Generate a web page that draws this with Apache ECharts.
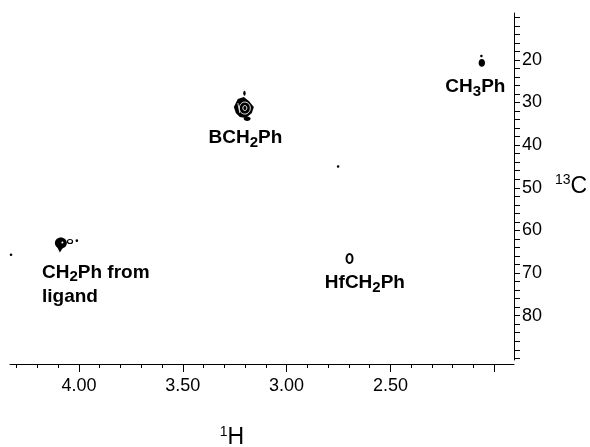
<!DOCTYPE html>
<html>
<head>
<meta charset="utf-8">
<script src="https://cdn.jsdelivr.net/npm/echarts@6/dist/echarts.min.js"></script>
<style>
html, body { margin: 0; padding: 0; background: #fff; }
#main { width: 590px; height: 447px; }
</style>
</head>
<body>
<div id="main"></div>
<script>
// cross peaks (1H ppm, 13C ppm)
var peakH = [4.087, 4.043, 4.010, 4.327, 3.206, 3.203, 3.190, 2.752, 2.697, 2.060, 2.062];
var peakC = [63.3, 62.6, 62.4, 65.7, 31.3, 27.8, 33.8, 45.0, 66.6, 20.7, 19.1];

// annotation texts and where they sit (ppm)
var noteText = ['CH3Ph', 'BCH2Ph', 'HfCH2Ph', 'CH2Ph from\nligand'];
var noteH = [2.091, 3.198, 2.623, 4.178];
var noteC = [25.9, 37.9, 72.0, 72.3];

// axis ticks
var hMajor = [2.0, 2.5, 3.0, 3.5, 4.0];
var hLabels = [2.5, 3.0, 3.5, 4.0];
var hMinor = [2.0, 2.1, 2.2, 2.3, 2.4, 2.5, 2.6, 2.7, 2.8, 2.9, 3.0, 3.1, 3.2, 3.3, 3.4, 3.5, 3.6, 3.7, 3.8, 3.9, 4.0, 4.1, 4.2, 4.3];
var cTicks = [10, 12, 14, 16, 18, 20, 22, 24, 26, 28, 30, 32, 34, 36, 38, 40, 42, 44, 46, 48, 50, 52, 54, 56, 58, 60, 62, 64, 66, 68, 70, 72, 74, 76, 78, 80, 82, 84, 86, 88, 90];
var cLabels = [20, 30, 40, 50, 60, 70, 80];

// how each contour is drawn (style only)
var peakShape = ['tear', 'smallRing', 'dot', 'dot', 'bc', 'tick', 'smallOval', 'dot', 'ring', 'blob', 'dot'];
var noteAlign = ['center', 'center', 'center', 'left'];

var FONT = '"Liberation Sans", Arial, sans-serif';

function richName(s) {
  // CH2Ph -> rich text with subscript digits
  return s.split('\n').map(function (line) {
    return line.replace(/([A-Za-z ]+)|(\d+)/g, function (m, a, d) {
      return a ? '{b|' + a + '}' : '{s|' + d + '}';
    });
  }).join('\n');
}

function renderPeak(params, api) {
  var p = api.coord([api.value(0), api.value(1)]);
  var x = p[0], y = p[1];
  var k = peakShape[params.dataIndex];
  var blk = { fill: '#000' };
  var c = [];
  if (k === 'tear') {
    c.push({ type: 'ellipse', shape: { cx: x, cy: y - 1.5, rx: 6, ry: 5.5 }, style: blk });
    c.push({ type: 'polygon', shape: { points: [[x - 5, y], [x + 4, y], [x - 1, y + 8]] }, style: blk });
    c.push({ type: 'circle', shape: { cx: x + 1.5, cy: y - 2, r: 1 }, style: { fill: '#fff' } });
  } else if (k === 'smallRing') {
    c.push({ type: 'ellipse', shape: { cx: x, cy: y, rx: 2.5, ry: 2 }, style: { fill: '#fff', stroke: '#000', lineWidth: 1.2 } });
  } else if (k === 'dot') {
    c.push({ type: 'circle', shape: { cx: x, cy: y, r: 1.3 }, style: blk });
  } else if (k === 'tick') {
    c.push({ type: 'ellipse', shape: { cx: x, cy: y, rx: 1.2, ry: 2.5 }, style: blk });
  } else if (k === 'smallOval') {
    c.push({ type: 'ellipse', shape: { cx: x, cy: y, rx: 3.5, ry: 2.2 }, style: blk });
  } else if (k === 'bc') {
    c.push({ type: 'polygon', shape: { points: [[x - 10, y - 1], [x - 6, y - 9], [x, y - 11], [x + 5, y - 7], [x + 10, y - 1], [x + 8, y + 5], [x + 2, y + 10], [x - 4, y + 9], [x - 8, y + 5]] }, style: blk });
    c.push({ type: 'ellipse', shape: { cx: x + 1, cy: y, rx: 5.5, ry: 6 }, style: { fill: 'none', stroke: '#fff', lineWidth: 0.9 } });
    c.push({ type: 'ellipse', shape: { cx: x + 1, cy: y, rx: 2, ry: 2.5 }, style: { fill: 'none', stroke: '#fff', lineWidth: 0.9 } });
    c.push({ type: 'line', shape: { x1: x - 6, y1: y - 5, x2: x - 4, y2: y + 5 }, style: { stroke: '#fff', lineWidth: 0.8 } });
  } else if (k === 'ring') {
    c.push({ type: 'ellipse', shape: { cx: x, cy: y, rx: 3, ry: 4.5 }, style: { fill: '#fff', stroke: '#000', lineWidth: 2 } });
  } else if (k === 'blob') {
    c.push({ type: 'ellipse', shape: { cx: x, cy: y, rx: 3.2, ry: 3.8 }, style: blk });
  }
  return { type: 'group', children: c };
}

// subscripts: top-aligned tokens, the digit pushed down by its top padding
var noteRich = {
  b: { fontFamily: FONT, fontWeight: 'bold', fontSize: 19, fill: '#000', lineHeight: 24, verticalAlign: 'top' },
  s: { fontFamily: FONT, fontWeight: 'bold', fontSize: 15, fill: '#000', lineHeight: 15, verticalAlign: 'top', padding: [7, 0, 0, 0] }
};

function renderNote(params, api) {
  var p = api.coord([api.value(0), api.value(1)]);
  var i = params.dataIndex;
  return {
    type: 'text',
    x: p[0],
    y: p[1] + 4,
    style: {
      text: richName(noteText[i]),
      rich: noteRich,
      fill: '#000',
      font: 'bold 19px ' + FONT,
      align: noteAlign[i],
      verticalAlign: 'middle'
    }
  };
}

var peakData = peakH.map(function (h, i) { return [h, peakC[i]]; });
var noteData = noteH.map(function (h, i) { return [h, noteC[i]]; });

var chart = echarts.init(document.getElementById('main'));
var xCommon = {
  type: 'value', inverse: true, min: 1.905, max: 4.332, position: 'bottom', offset: 4,
  splitLine: { show: false }
};
var nameRich = {
  sup: { fontFamily: FONT, fontSize: 14, color: '#000', verticalAlign: 'top', lineHeight: 14 },
  n: { fontFamily: FONT, fontSize: 23, color: '#000', lineHeight: 26 }
};
chart.setOption({
  animation: false,
  backgroundColor: '#fff',
  grid: { left: 10, right: 76, top: 13, bottom: 87, outerBoundsMode: 'none' },
  xAxis: [
    Object.assign({}, xCommon, {
      name: '{sup|1}{n|H}',
      nameLocation: 'middle',
      nameGap: 61,
      nameTextStyle: { padding: [0, 60, 0, 0], rich: nameRich },
      axisLine: { onZero: false, lineStyle: { color: '#000', width: 1 } },
      axisTick: { customValues: hMajor, length: 8, lineStyle: { color: '#000' } },
      axisLabel: {
        customValues: hLabels, color: '#000', fontFamily: FONT, fontSize: 18, margin: 13,
        formatter: function (v) { return v.toFixed(2); }
      }
    }),
    Object.assign({}, xCommon, {
      axisLine: { show: false, onZero: false },
      axisTick: { customValues: hMinor, length: 4, lineStyle: { color: '#000' } },
      axisLabel: { show: false }
    })
  ],
  yAxis: {
    type: 'value', inverse: true, min: 9, max: 90.4, position: 'right',
    name: '{sup|13}{n|C}',
    nameLocation: 'middle',
    nameRotate: 0,
    nameGap: 41,
    nameTextStyle: { align: 'left', rich: nameRich },
    splitLine: { show: false },
    axisLine: { onZero: false, lineStyle: { color: '#000', width: 1 } },
    axisTick: { customValues: cTicks, length: 6, lineStyle: { color: '#000' } },
    axisLabel: { customValues: cLabels, color: '#000', fontFamily: FONT, fontSize: 18, margin: 8 }
  },
  series: [
    {
      type: 'custom',
      name: 'peaks',
      renderItem: renderPeak,
      data: peakData,
      clip: false
    },
    {
      type: 'custom',
      name: 'notes',
      renderItem: renderNote,
      data: noteData,
      clip: false
    }
  ]
});
</script>
</body>
</html>
